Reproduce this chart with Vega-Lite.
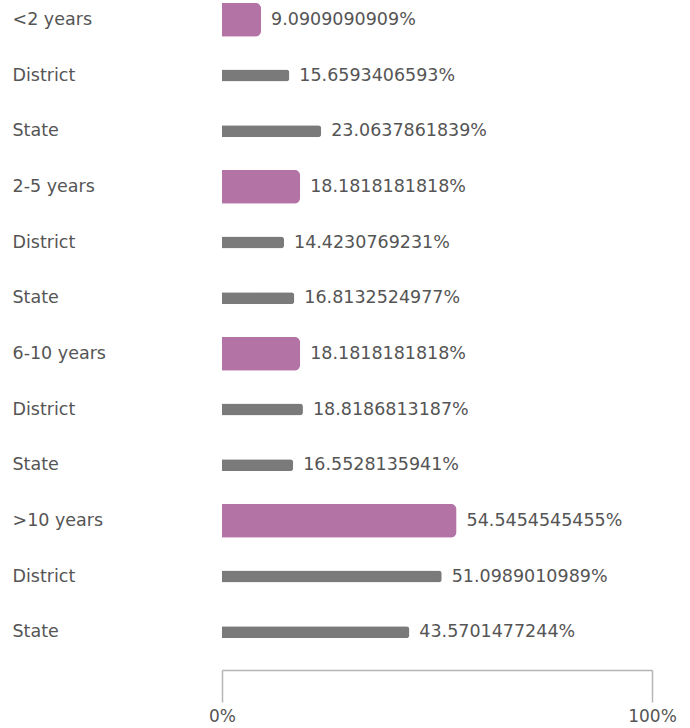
{
  "$schema": "https://vega.github.io/schema/vega-lite/v6.json",
  "width": 430,
  "height": 670,
  "autosize": "none",
  "padding": {"left": 222, "top": 0, "right": 38, "bottom": 58},
  "background": "white",
  "config": {"view": {"stroke": null}, "font": "DejaVu Sans"},
  "data": {"values": [
    {"id": "<2 years", "kind": "group", "value": 9.0909090909, "label": "9.0909090909%"},
    {"id": "District|1", "kind": "District", "value": 15.6593406593, "label": "15.6593406593%"},
    {"id": "State|1", "kind": "State", "value": 23.0637861839, "label": "23.0637861839%"},
    {"id": "2-5 years", "kind": "group", "value": 18.1818181818, "label": "18.1818181818%"},
    {"id": "District|2", "kind": "District", "value": 14.4230769231, "label": "14.4230769231%"},
    {"id": "State|2", "kind": "State", "value": 16.8132524977, "label": "16.8132524977%"},
    {"id": "6-10 years", "kind": "group", "value": 18.1818181818, "label": "18.1818181818%"},
    {"id": "District|3", "kind": "District", "value": 18.8186813187, "label": "18.8186813187%"},
    {"id": "State|3", "kind": "State", "value": 16.5528135941, "label": "16.5528135941%"},
    {"id": ">10 years", "kind": "group", "value": 54.5454545455, "label": "54.5454545455%"},
    {"id": "District|4", "kind": "District", "value": 51.0989010989, "label": "51.0989010989%"},
    {"id": "State|4", "kind": "State", "value": 43.5701477244, "label": "43.5701477244%"}
  ]},
  "encoding": {
    "y": {
      "field": "id", "type": "nominal",
      "scale": {
        "domain": ["<2 years", "District|1", "State|1", "2-5 years", "District|2", "State|2", "6-10 years", "District|3", "State|3", ">10 years", "District|4", "State|4"],
        "range": [-8, 660], "paddingInner": 0, "paddingOuter": 0
      },
      "axis": {
        "title": null, "domain": false, "ticks": false, "tickSize": 0,
        "labelAlign": "left", "labelPadding": 210, "labelFontSize": 17.5,
        "labelColor": "#555555", "labelBaseline": "middle",
        "labelExpr": "split(datum.label, '|')[0]"
      }
    },
    "x": {
      "field": "value", "type": "quantitative",
      "scale": {"domain": [0, 100], "nice": false},
      "axis": {
        "title": null, "values": [0, 100], "grid": false,
        "labelExpr": "datum.value + '%'",
        "domainColor": "#b5b5b5", "domainWidth": 1.5,
        "tickColor": "#b5b5b5", "tickWidth": 1.5, "tickSize": 32,
        "labelFontSize": 17, "labelColor": "#555555", "labelPadding": 6,
        "labelFlush": false
      }
    }
  },
  "layer": [
    {
      "transform": [{"filter": "datum.kind == 'group'"}],
      "mark": {"type": "bar", "size": 34, "color": "#b373a5", "cornerRadiusEnd": 6}
    },
    {
      "transform": [{"filter": "datum.kind != 'group'"}],
      "mark": {"type": "bar", "size": 12, "color": "#7a7a7a", "cornerRadiusEnd": 3}
    },
    {
      "mark": {"type": "text", "align": "left", "baseline": "middle", "dx": 10, "fontSize": 17.5, "color": "#555555"},
      "encoding": {"text": {"field": "label"}}
    }
  ]
}
